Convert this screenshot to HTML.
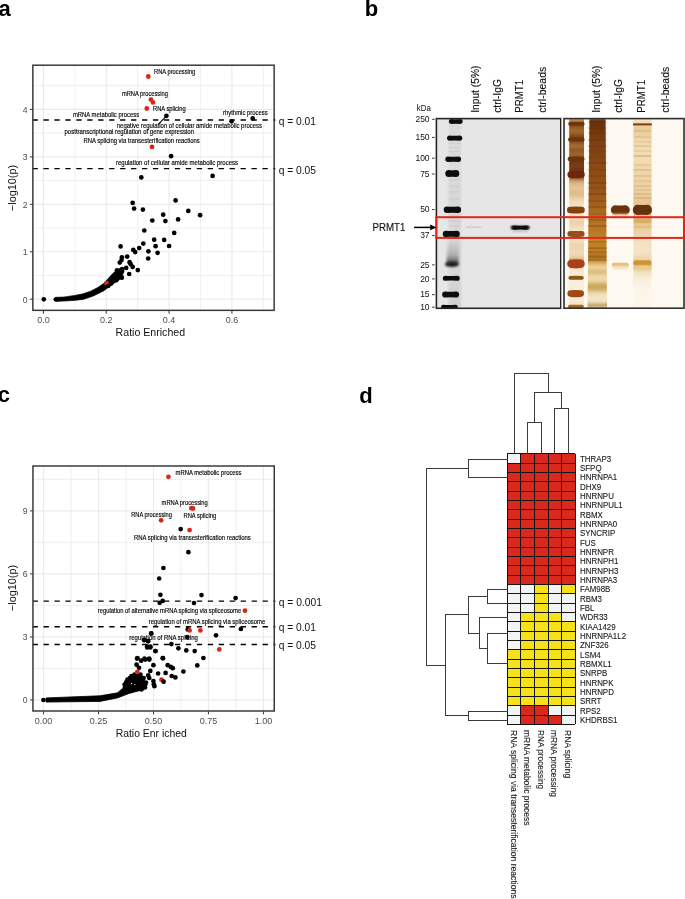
<!DOCTYPE html>
<html><head><meta charset="utf-8"><style>
html,body{margin:0;padding:0;background:#fff;width:685px;height:899px;overflow:hidden}
svg{display:block;will-change:transform}
text{font-family:"Liberation Sans", sans-serif}
</style></head><body>
<svg width="685" height="899" viewBox="0 0 685 899">
<rect width="685" height="899" fill="#fff"/>
<defs><filter id="bl1" x="-20%" y="-50%" width="140%" height="200%"><feGaussianBlur stdDeviation="0.6"/></filter><filter id="bl2" x="-20%" y="-80%" width="140%" height="260%"><feGaussianBlur stdDeviation="1.0"/></filter><filter id="bl4" x="-20%" y="-80%" width="140%" height="260%"><feGaussianBlur stdDeviation="0.8 0.7"/></filter><filter id="bl3" x="-20%" y="-20%" width="140%" height="140%"><feGaussianBlur stdDeviation="0.5 1.2"/></filter><clipPath id="cg1"><rect x="436.4" y="118.6" width="124.39999999999998" height="189.70000000000002"/></clipPath><linearGradient id="mk1" x1="0" y1="0" x2="0" y2="1">
<stop offset="0" stop-color="#dcdcdc"/><stop offset="0.3" stop-color="#d9d9d9"/><stop offset="0.45" stop-color="#d6d6d6"/>
<stop offset="0.6" stop-color="#d8d8d8"/><stop offset="0.75" stop-color="#cfcfcf"/><stop offset="0.8" stop-color="#d8d8d8"/><stop offset="1" stop-color="#cdcdcd"/></linearGradient><linearGradient id="sm25" x1="0" y1="0" x2="0" y2="1"><stop offset="0" stop-color="#888" stop-opacity="0"/><stop offset="0.6" stop-color="#777" stop-opacity="0.35"/><stop offset="1" stop-color="#333" stop-opacity="0.9"/></linearGradient><clipPath id="cg2"><rect x="564.0" y="118.6" width="120.0" height="189.6"/></clipPath><linearGradient id="m2" x1="0" y1="0" x2="0" y2="1"><stop offset="0.0000" stop-color="#d8a050"/><stop offset="0.0132" stop-color="#b07030"/><stop offset="0.0396" stop-color="#8a4c1a"/><stop offset="0.0607" stop-color="#a86a30"/><stop offset="0.0818" stop-color="#985c24"/><stop offset="0.0976" stop-color="#7a3e14"/><stop offset="0.1240" stop-color="#8a4e1c"/><stop offset="0.1451" stop-color="#a87038"/><stop offset="0.1662" stop-color="#905420"/><stop offset="0.1873" stop-color="#a06830"/><stop offset="0.2296" stop-color="#6e3410"/><stop offset="0.2507" stop-color="#7c4016"/><stop offset="0.2718" stop-color="#6e3010"/><stop offset="0.3140" stop-color="#9a5e30"/><stop offset="0.3351" stop-color="#d8b080"/><stop offset="0.3668" stop-color="#e8c898"/><stop offset="0.3984" stop-color="#dcb888"/><stop offset="0.4301" stop-color="#f0d8b4"/><stop offset="0.4565" stop-color="#f4e2c4"/><stop offset="0.5092" stop-color="#f6e6cc"/><stop offset="0.5462" stop-color="#ecd0a4"/><stop offset="0.5831" stop-color="#f4e2c4"/><stop offset="0.6306" stop-color="#f6e8d0"/><stop offset="0.6623" stop-color="#eed4ac"/><stop offset="0.6939" stop-color="#f0d8b4"/><stop offset="0.7256" stop-color="#f0d8b4"/><stop offset="0.7467" stop-color="#d8a878"/><stop offset="0.7889" stop-color="#f4e4cc"/><stop offset="0.8259" stop-color="#f8ecd8"/><stop offset="0.8786" stop-color="#f8eedc"/><stop offset="0.9578" stop-color="#f8ecd8"/><stop offset="1.0000" stop-color="#f2dcb8"/></linearGradient><linearGradient id="in2" x1="0" y1="0" x2="0" y2="1"><stop offset="0.0000" stop-color="#642c0a"/><stop offset="0.0343" stop-color="#6e320c"/><stop offset="0.0871" stop-color="#783a10"/><stop offset="0.1662" stop-color="#824214"/><stop offset="0.2454" stop-color="#8a4816"/><stop offset="0.3245" stop-color="#925018"/><stop offset="0.4037" stop-color="#9a581c"/><stop offset="0.4565" stop-color="#a2621e"/><stop offset="0.5092" stop-color="#ae6e22"/><stop offset="0.5620" stop-color="#b47424"/><stop offset="0.5989" stop-color="#b87826"/><stop offset="0.6412" stop-color="#c4862a"/><stop offset="0.6834" stop-color="#bc7e24"/><stop offset="0.7045" stop-color="#c08228"/><stop offset="0.7309" stop-color="#a46a1c"/><stop offset="0.7520" stop-color="#c4923a"/><stop offset="0.7731" stop-color="#e6c484"/><stop offset="0.7889" stop-color="#eed6a6"/><stop offset="0.8100" stop-color="#dab46c"/><stop offset="0.8311" stop-color="#eed8aa"/><stop offset="0.8575" stop-color="#ecd4a6"/><stop offset="0.8786" stop-color="#caa658"/><stop offset="0.8997" stop-color="#ccaa60"/><stop offset="0.9208" stop-color="#ecd8ac"/><stop offset="0.9420" stop-color="#f4e6c6"/><stop offset="0.9683" stop-color="#f2e0be"/><stop offset="0.9842" stop-color="#bc9c5c"/><stop offset="1.0000" stop-color="#d8c088"/></linearGradient><linearGradient id="pr2" x1="0" y1="0" x2="0" y2="1"><stop offset="0.0000" stop-color="#f8ecd4"/><stop offset="0.0396" stop-color="#e8cc98"/><stop offset="0.0871" stop-color="#ecd2a4"/><stop offset="0.1398" stop-color="#f2dcb4"/><stop offset="0.2190" stop-color="#f2dcb2"/><stop offset="0.2982" stop-color="#eed4a6"/><stop offset="0.3773" stop-color="#ecd0a0"/><stop offset="0.4301" stop-color="#e8c898"/><stop offset="0.5145" stop-color="#e4c088"/><stop offset="0.5356" stop-color="#dcb070"/><stop offset="0.5567" stop-color="#e6c890"/><stop offset="0.5884" stop-color="#ead0a0"/><stop offset="0.6412" stop-color="#f2e0c0"/><stop offset="0.7045" stop-color="#f4e4c8"/><stop offset="0.7361" stop-color="#eed8b0"/><stop offset="0.7784" stop-color="#e4c080"/><stop offset="0.8100" stop-color="#f2e0c0"/><stop offset="0.8522" stop-color="#faf0e0"/><stop offset="0.9050" stop-color="#fcf5e8"/><stop offset="1.0000" stop-color="#fcf6ea"/></linearGradient></defs>
<text x="-1.50" y="15.50" font-size="22" font-weight="bold" >a</text>
<text x="364.80" y="15.50" font-size="22" font-weight="bold" >b</text>
<text x="-2.30" y="401.80" font-size="22" font-weight="bold" >c</text>
<text x="359.30" y="402.80" font-size="22" font-weight="bold" >d</text>
<line x1="166.4" y1="115.8" x2="158.6" y2="124.2" stroke="#000" stroke-width="1.1"/>
<line x1="74.82" y1="65.20" x2="74.82" y2="310.35" stroke="#f1f1f1" stroke-width="1.1" />
<line x1="137.66" y1="65.20" x2="137.66" y2="310.35" stroke="#f1f1f1" stroke-width="1.1" />
<line x1="200.50" y1="65.20" x2="200.50" y2="310.35" stroke="#f1f1f1" stroke-width="1.1" />
<line x1="263.34" y1="65.20" x2="263.34" y2="310.35" stroke="#f1f1f1" stroke-width="1.1" />
<line x1="32.85" y1="275.47" x2="274.15" y2="275.47" stroke="#f1f1f1" stroke-width="1.1" />
<line x1="32.85" y1="228.02" x2="274.15" y2="228.02" stroke="#f1f1f1" stroke-width="1.1" />
<line x1="32.85" y1="180.57" x2="274.15" y2="180.57" stroke="#f1f1f1" stroke-width="1.1" />
<line x1="32.85" y1="133.12" x2="274.15" y2="133.12" stroke="#f1f1f1" stroke-width="1.1" />
<line x1="32.85" y1="85.67" x2="274.15" y2="85.67" stroke="#f1f1f1" stroke-width="1.1" />
<line x1="43.40" y1="65.20" x2="43.40" y2="310.35" stroke="#ebebeb" stroke-width="1.2" />
<line x1="106.24" y1="65.20" x2="106.24" y2="310.35" stroke="#ebebeb" stroke-width="1.2" />
<line x1="169.08" y1="65.20" x2="169.08" y2="310.35" stroke="#ebebeb" stroke-width="1.2" />
<line x1="231.92" y1="65.20" x2="231.92" y2="310.35" stroke="#ebebeb" stroke-width="1.2" />
<line x1="32.85" y1="299.20" x2="274.15" y2="299.20" stroke="#ebebeb" stroke-width="1.2" />
<line x1="32.85" y1="251.75" x2="274.15" y2="251.75" stroke="#ebebeb" stroke-width="1.2" />
<line x1="32.85" y1="204.30" x2="274.15" y2="204.30" stroke="#ebebeb" stroke-width="1.2" />
<line x1="32.85" y1="156.85" x2="274.15" y2="156.85" stroke="#ebebeb" stroke-width="1.2" />
<line x1="32.85" y1="109.40" x2="274.15" y2="109.40" stroke="#ebebeb" stroke-width="1.2" />
<circle cx="55.6" cy="299.4" r="2.15"/>
<path d="M55.6,297.3 L64,297.0 L74.4,295.4 L83,293.8 L90.5,291.2 L97.8,287.4 L103.6,283.4 L108,278.8 L112.4,273.8 L116.8,269.9 L119.7,268.4 L123,270 L122.6,277.7 L116.8,281.4 L109.5,286.5 L103.6,290.9 L93.4,296 L83.2,299.4 L74.4,300.4 L64,301.1 L55.6,301.5 Z" fill="#000" stroke="#000" stroke-width="0.6" stroke-linejoin="round"/>
<circle cx="106.5" cy="283.1" r="2.4" fill="#da2618"/>
<circle cx="43.8" cy="299.3" r="2.35" fill="#000"/>
<circle cx="166.4" cy="115.8" r="2.35" fill="#000"/>
<circle cx="231.6" cy="121.3" r="2.35" fill="#000"/>
<circle cx="252.7" cy="118.4" r="2.35" fill="#000"/>
<circle cx="171.1" cy="156.2" r="2.35" fill="#000"/>
<circle cx="212.6" cy="175.9" r="2.35" fill="#000"/>
<circle cx="141.3" cy="177.4" r="2.35" fill="#000"/>
<circle cx="132.7" cy="202.9" r="2.35" fill="#000"/>
<circle cx="134.1" cy="208.6" r="2.35" fill="#000"/>
<circle cx="142.9" cy="209.6" r="2.35" fill="#000"/>
<circle cx="175.6" cy="200.4" r="2.35" fill="#000"/>
<circle cx="188.3" cy="210.9" r="2.35" fill="#000"/>
<circle cx="200.1" cy="215.2" r="2.35" fill="#000"/>
<circle cx="163.2" cy="214.7" r="2.35" fill="#000"/>
<circle cx="165.4" cy="221.1" r="2.35" fill="#000"/>
<circle cx="178.1" cy="219.4" r="2.35" fill="#000"/>
<circle cx="152.3" cy="220.5" r="2.35" fill="#000"/>
<circle cx="144.3" cy="230.5" r="2.35" fill="#000"/>
<circle cx="174.2" cy="232.9" r="2.35" fill="#000"/>
<circle cx="154.2" cy="239.7" r="2.35" fill="#000"/>
<circle cx="164.2" cy="239.9" r="2.35" fill="#000"/>
<circle cx="143.3" cy="243.6" r="2.35" fill="#000"/>
<circle cx="155.6" cy="246.2" r="2.35" fill="#000"/>
<circle cx="169.1" cy="246.0" r="2.35" fill="#000"/>
<circle cx="120.6" cy="246.4" r="2.35" fill="#000"/>
<circle cx="139.2" cy="248.1" r="2.35" fill="#000"/>
<circle cx="133.3" cy="249.9" r="2.35" fill="#000"/>
<circle cx="135.2" cy="252.1" r="2.35" fill="#000"/>
<circle cx="148.4" cy="251.3" r="2.35" fill="#000"/>
<circle cx="157.6" cy="252.8" r="2.35" fill="#000"/>
<circle cx="148.2" cy="258.5" r="2.35" fill="#000"/>
<circle cx="127.2" cy="256.6" r="2.35" fill="#000"/>
<circle cx="121.9" cy="257.3" r="2.35" fill="#000"/>
<circle cx="121.5" cy="260.1" r="2.35" fill="#000"/>
<circle cx="119.8" cy="262.6" r="2.35" fill="#000"/>
<circle cx="129.6" cy="262.2" r="2.35" fill="#000"/>
<circle cx="130.7" cy="264.2" r="2.35" fill="#000"/>
<circle cx="132.7" cy="266.9" r="2.35" fill="#000"/>
<circle cx="137.8" cy="270.1" r="2.35" fill="#000"/>
<circle cx="126.2" cy="267.9" r="2.35" fill="#000"/>
<circle cx="122.1" cy="269.1" r="2.35" fill="#000"/>
<circle cx="129.2" cy="274.0" r="2.35" fill="#000"/>
<circle cx="121.9" cy="277.7" r="2.35" fill="#000"/>
<circle cx="122.1" cy="271.4" r="2.35" fill="#000"/>
<circle cx="117.0" cy="270.3" r="2.35" fill="#000"/>
<circle cx="116.3" cy="280.2" r="2.35" fill="#000"/>
<circle cx="111.2" cy="283.6" r="2.35" fill="#000"/>
<circle cx="108.2" cy="286.0" r="2.35" fill="#000"/>
<circle cx="148.3" cy="76.5" r="2.4" fill="#da2618"/>
<circle cx="150.9" cy="99.6" r="2.4" fill="#da2618"/>
<circle cx="153.0" cy="102.4" r="2.4" fill="#da2618"/>
<circle cx="146.8" cy="108.5" r="2.4" fill="#da2618"/>
<circle cx="152.0" cy="146.9" r="2.4" fill="#da2618"/>
<text x="154.00" y="74.40" font-size="6.5" textLength="41.30" lengthAdjust="spacingAndGlyphs" stroke="#000" stroke-width="0.14">RNA processing</text>
<text x="121.90" y="96.20" font-size="6.5" textLength="46.00" lengthAdjust="spacingAndGlyphs" stroke="#000" stroke-width="0.14">mRNA processing</text>
<text x="153.00" y="111.30" font-size="6.5" textLength="32.70" lengthAdjust="spacingAndGlyphs" stroke="#000" stroke-width="0.14">RNA splicing</text>
<text x="72.90" y="117.10" font-size="6.5" textLength="66.20" lengthAdjust="spacingAndGlyphs" stroke="#000" stroke-width="0.14">mRNA metabolic process</text>
<text x="223.00" y="115.40" font-size="6.5" textLength="44.70" lengthAdjust="spacingAndGlyphs" stroke="#000" stroke-width="0.14">rhythmic process</text>
<text x="116.80" y="127.50" font-size="6.5" textLength="145.20" lengthAdjust="spacingAndGlyphs" stroke="#000" stroke-width="0.14">negative regulation of cellular amide metabolic process</text>
<text x="64.50" y="133.80" font-size="6.5" textLength="129.50" lengthAdjust="spacingAndGlyphs" stroke="#000" stroke-width="0.14">posttranscriptional regulation of gene expression</text>
<text x="83.50" y="143.30" font-size="6.5" textLength="116.20" lengthAdjust="spacingAndGlyphs" stroke="#000" stroke-width="0.14">RNA splicing via transesterification reactions</text>
<text x="116.00" y="165.10" font-size="6.5" textLength="122.00" lengthAdjust="spacingAndGlyphs" stroke="#000" stroke-width="0.14">regulation of cellular amide metabolic process</text>
<line x1="32.85" y1="120.00" x2="275.35" y2="120.00" stroke="#000" stroke-width="1.45" stroke-dasharray="5.3 5.65" stroke-dashoffset="0.35"/>
<line x1="32.85" y1="168.60" x2="275.35" y2="168.60" stroke="#000" stroke-width="1.45" stroke-dasharray="5.3 5.65" stroke-dashoffset="0.35"/>
<rect x="32.85" y="65.20" width="241.30" height="245.15" fill="none" stroke="#363333" stroke-width="1.45" />
<line x1="43.40" y1="310.85" x2="43.40" y2="313.75" stroke="#333333" stroke-width="1.0" />
<text x="43.40" y="322.85" font-size="9.0" text-anchor="middle" fill="#4d4d4d" >0.0</text>
<line x1="106.24" y1="310.85" x2="106.24" y2="313.75" stroke="#333333" stroke-width="1.0" />
<text x="106.24" y="322.85" font-size="9.0" text-anchor="middle" fill="#4d4d4d" >0.2</text>
<line x1="169.08" y1="310.85" x2="169.08" y2="313.75" stroke="#333333" stroke-width="1.0" />
<text x="169.08" y="322.85" font-size="9.0" text-anchor="middle" fill="#4d4d4d" >0.4</text>
<line x1="231.92" y1="310.85" x2="231.92" y2="313.75" stroke="#333333" stroke-width="1.0" />
<text x="231.92" y="322.85" font-size="9.0" text-anchor="middle" fill="#4d4d4d" >0.6</text>
<line x1="29.85" y1="299.20" x2="32.35" y2="299.20" stroke="#333333" stroke-width="1.0" />
<text x="27.55" y="302.55" font-size="8.7" text-anchor="end" fill="#4d4d4d" >0</text>
<line x1="29.85" y1="251.75" x2="32.35" y2="251.75" stroke="#333333" stroke-width="1.0" />
<text x="27.55" y="255.10" font-size="8.7" text-anchor="end" fill="#4d4d4d" >1</text>
<line x1="29.85" y1="204.30" x2="32.35" y2="204.30" stroke="#333333" stroke-width="1.0" />
<text x="27.55" y="207.65" font-size="8.7" text-anchor="end" fill="#4d4d4d" >2</text>
<line x1="29.85" y1="156.85" x2="32.35" y2="156.85" stroke="#333333" stroke-width="1.0" />
<text x="27.55" y="160.20" font-size="8.7" text-anchor="end" fill="#4d4d4d" >3</text>
<line x1="29.85" y1="109.40" x2="32.35" y2="109.40" stroke="#333333" stroke-width="1.0" />
<text x="27.55" y="112.75" font-size="8.7" text-anchor="end" fill="#4d4d4d" >4</text>
<text x="278.70" y="124.90" font-size="11.2" fill="#111" textLength="37.30" lengthAdjust="spacingAndGlyphs" >q = 0.01</text>
<text x="278.70" y="173.50" font-size="11.2" fill="#111" textLength="37.30" lengthAdjust="spacingAndGlyphs" >q = 0.05</text>
<text x="115.60" y="335.95" font-size="11.4" fill="#111" textLength="69.50" lengthAdjust="spacingAndGlyphs" >Ratio Enriched</text>
<text x="16.00" y="188.00" font-size="11.2" text-anchor="middle" fill="#111" textLength="46.30" lengthAdjust="spacingAndGlyphs" transform="rotate(-90 16.00 188.00)" >−log10(p)</text>
<line x1="71.08" y1="466.00" x2="71.08" y2="711.00" stroke="#f1f1f1" stroke-width="1.1" />
<line x1="126.03" y1="466.00" x2="126.03" y2="711.00" stroke="#f1f1f1" stroke-width="1.1" />
<line x1="180.97" y1="466.00" x2="180.97" y2="711.00" stroke="#f1f1f1" stroke-width="1.1" />
<line x1="235.93" y1="466.00" x2="235.93" y2="711.00" stroke="#f1f1f1" stroke-width="1.1" />
<line x1="32.95" y1="668.40" x2="274.25" y2="668.40" stroke="#f1f1f1" stroke-width="1.1" />
<line x1="32.95" y1="605.40" x2="274.25" y2="605.40" stroke="#f1f1f1" stroke-width="1.1" />
<line x1="32.95" y1="542.40" x2="274.25" y2="542.40" stroke="#f1f1f1" stroke-width="1.1" />
<line x1="32.95" y1="479.40" x2="274.25" y2="479.40" stroke="#f1f1f1" stroke-width="1.1" />
<line x1="43.60" y1="466.00" x2="43.60" y2="711.00" stroke="#ebebeb" stroke-width="1.2" />
<line x1="98.55" y1="466.00" x2="98.55" y2="711.00" stroke="#ebebeb" stroke-width="1.2" />
<line x1="153.50" y1="466.00" x2="153.50" y2="711.00" stroke="#ebebeb" stroke-width="1.2" />
<line x1="208.45" y1="466.00" x2="208.45" y2="711.00" stroke="#ebebeb" stroke-width="1.2" />
<line x1="263.40" y1="466.00" x2="263.40" y2="711.00" stroke="#ebebeb" stroke-width="1.2" />
<line x1="32.95" y1="699.90" x2="274.25" y2="699.90" stroke="#ebebeb" stroke-width="1.2" />
<line x1="32.95" y1="636.90" x2="274.25" y2="636.90" stroke="#ebebeb" stroke-width="1.2" />
<line x1="32.95" y1="573.90" x2="274.25" y2="573.90" stroke="#ebebeb" stroke-width="1.2" />
<line x1="32.95" y1="510.90" x2="274.25" y2="510.90" stroke="#ebebeb" stroke-width="1.2" />
<path d="M46,697.9 L100,695.8 L117.5,692.8 L122.8,688.3 L124.5,682.1 L128.9,676.9 L136.8,673.4 L142,676 L144.7,680.4 L147.3,684.8 L145.5,688.3 L142,690 L128.9,693.5 L117.5,697.9 L100,701.4 L46,702.1 Z" fill="#000" stroke="#000" stroke-width="0.8" stroke-linejoin="round"/>
<circle cx="131.6" cy="683.6" r="0.7" fill="#fff"/>
<circle cx="134.9" cy="684.6" r="0.6" fill="#fff"/>
<circle cx="161.5" cy="679.7" r="2.4" fill="#da2618"/>
<circle cx="180.7" cy="529.1" r="2.35" fill="#000"/>
<circle cx="188.4" cy="552.2" r="2.35" fill="#000"/>
<circle cx="163.4" cy="568.0" r="2.35" fill="#000"/>
<circle cx="159.2" cy="578.5" r="2.35" fill="#000"/>
<circle cx="160.4" cy="594.8" r="2.35" fill="#000"/>
<circle cx="201.5" cy="595.1" r="2.35" fill="#000"/>
<circle cx="162.7" cy="600.9" r="2.35" fill="#000"/>
<circle cx="159.7" cy="602.8" r="2.35" fill="#000"/>
<circle cx="194.0" cy="603.0" r="2.35" fill="#000"/>
<circle cx="235.6" cy="598.1" r="2.35" fill="#000"/>
<circle cx="240.9" cy="629.0" r="2.35" fill="#000"/>
<circle cx="187.7" cy="629.4" r="2.35" fill="#000"/>
<circle cx="151.1" cy="633.4" r="2.35" fill="#000"/>
<circle cx="216.0" cy="635.3" r="2.35" fill="#000"/>
<circle cx="187.3" cy="637.1" r="2.35" fill="#000"/>
<circle cx="144.5" cy="640.0" r="2.35" fill="#000"/>
<circle cx="148.0" cy="641.1" r="2.35" fill="#000"/>
<circle cx="171.4" cy="644.1" r="2.35" fill="#000"/>
<circle cx="147.1" cy="646.5" r="2.35" fill="#000"/>
<circle cx="150.4" cy="646.5" r="2.35" fill="#000"/>
<circle cx="178.4" cy="648.3" r="2.35" fill="#000"/>
<circle cx="155.5" cy="651.1" r="2.35" fill="#000"/>
<circle cx="186.3" cy="650.4" r="2.35" fill="#000"/>
<circle cx="194.7" cy="651.1" r="2.35" fill="#000"/>
<circle cx="137.5" cy="658.0" r="2.35" fill="#000"/>
<circle cx="144.5" cy="658.6" r="2.35" fill="#000"/>
<circle cx="149.2" cy="658.6" r="2.35" fill="#000"/>
<circle cx="162.7" cy="658.2" r="2.35" fill="#000"/>
<circle cx="203.4" cy="658.0" r="2.35" fill="#000"/>
<circle cx="151.3" cy="633.5" r="2.35" fill="#000"/>
<circle cx="144.2" cy="640.2" r="2.35" fill="#000"/>
<circle cx="148.2" cy="641.2" r="2.35" fill="#000"/>
<circle cx="147.2" cy="647.4" r="2.35" fill="#000"/>
<circle cx="150.3" cy="647.4" r="2.35" fill="#000"/>
<circle cx="155.4" cy="651.0" r="2.35" fill="#000"/>
<circle cx="197.3" cy="665.4" r="2.35" fill="#000"/>
<circle cx="183.4" cy="671.5" r="2.35" fill="#000"/>
<circle cx="163.0" cy="658.2" r="2.35" fill="#000"/>
<circle cx="167.7" cy="665.2" r="2.35" fill="#000"/>
<circle cx="170.7" cy="666.8" r="2.35" fill="#000"/>
<circle cx="172.8" cy="668.2" r="2.35" fill="#000"/>
<circle cx="165.6" cy="672.9" r="2.35" fill="#000"/>
<circle cx="158.1" cy="673.5" r="2.35" fill="#000"/>
<circle cx="171.7" cy="676.0" r="2.35" fill="#000"/>
<circle cx="175.4" cy="677.4" r="2.35" fill="#000"/>
<circle cx="163.6" cy="681.7" r="2.35" fill="#000"/>
<circle cx="153.4" cy="665.2" r="2.35" fill="#000"/>
<circle cx="150.3" cy="670.9" r="2.35" fill="#000"/>
<circle cx="148.2" cy="675.4" r="2.35" fill="#000"/>
<circle cx="149.3" cy="678.0" r="2.35" fill="#000"/>
<circle cx="153.4" cy="681.1" r="2.35" fill="#000"/>
<circle cx="153.8" cy="684.2" r="2.35" fill="#000"/>
<circle cx="154.4" cy="686.2" r="2.35" fill="#000"/>
<circle cx="124.6" cy="684.5" r="2.35" fill="#000"/>
<circle cx="127.5" cy="679.5" r="2.35" fill="#000"/>
<circle cx="131.5" cy="676.2" r="2.35" fill="#000"/>
<circle cx="134.5" cy="674.5" r="2.35" fill="#000"/>
<circle cx="140.5" cy="674.6" r="2.35" fill="#000"/>
<circle cx="143.6" cy="678.0" r="2.35" fill="#000"/>
<circle cx="146.0" cy="682.6" r="2.35" fill="#000"/>
<circle cx="145.0" cy="687.4" r="2.35" fill="#000"/>
<circle cx="141.5" cy="689.5" r="2.35" fill="#000"/>
<circle cx="137.0" cy="658.6" r="2.35" fill="#000"/>
<circle cx="141.1" cy="660.7" r="2.35" fill="#000"/>
<circle cx="145.2" cy="659.6" r="2.35" fill="#000"/>
<circle cx="149.3" cy="659.6" r="2.35" fill="#000"/>
<circle cx="136.6" cy="664.7" r="2.35" fill="#000"/>
<circle cx="139.0" cy="667.8" r="2.35" fill="#000"/>
<circle cx="129.9" cy="678.0" r="2.35" fill="#000"/>
<circle cx="126.4" cy="682.1" r="2.35" fill="#000"/>
<circle cx="43.4" cy="700.0" r="2.35" fill="#000"/>
<circle cx="168.4" cy="476.8" r="2.4" fill="#da2618"/>
<circle cx="191.4" cy="508.2" r="2.4" fill="#da2618"/>
<circle cx="193.0" cy="508.5" r="2.4" fill="#da2618"/>
<circle cx="161.1" cy="520.3" r="2.4" fill="#da2618"/>
<circle cx="189.6" cy="530.1" r="2.4" fill="#da2618"/>
<circle cx="245.0" cy="610.7" r="2.4" fill="#da2618"/>
<circle cx="189.6" cy="630.4" r="2.4" fill="#da2618"/>
<circle cx="200.4" cy="630.4" r="2.4" fill="#da2618"/>
<circle cx="219.3" cy="649.4" r="2.4" fill="#da2618"/>
<circle cx="137.4" cy="671.9" r="2.4" fill="#da2618"/>
<text x="175.60" y="474.60" font-size="6.5" textLength="65.90" lengthAdjust="spacingAndGlyphs" stroke="#000" stroke-width="0.14">mRNA metabolic process</text>
<text x="161.60" y="504.50" font-size="6.5" textLength="46.20" lengthAdjust="spacingAndGlyphs" stroke="#000" stroke-width="0.14">mRNA processing</text>
<text x="131.20" y="516.70" font-size="6.5" textLength="40.70" lengthAdjust="spacingAndGlyphs" stroke="#000" stroke-width="0.14">RNA processing</text>
<text x="183.50" y="517.90" font-size="6.5" textLength="32.70" lengthAdjust="spacingAndGlyphs" stroke="#000" stroke-width="0.14">RNA splicing</text>
<text x="134.00" y="539.60" font-size="6.5" textLength="116.80" lengthAdjust="spacingAndGlyphs" stroke="#000" stroke-width="0.14">RNA splicing via transesterification reactions</text>
<text x="97.80" y="612.50" font-size="6.5" textLength="143.40" lengthAdjust="spacingAndGlyphs" stroke="#000" stroke-width="0.14">regulation of alternative mRNA splicing via spliceosome</text>
<text x="148.70" y="624.00" font-size="6.5" textLength="116.60" lengthAdjust="spacingAndGlyphs" stroke="#000" stroke-width="0.14">regulation of mRNA splicing via spliceosome</text>
<text x="129.30" y="640.10" font-size="6.5" textLength="68.50" lengthAdjust="spacingAndGlyphs" stroke="#000" stroke-width="0.14">regulation of RNA splicing</text>
<line x1="32.95" y1="601.10" x2="275.45" y2="601.10" stroke="#000" stroke-width="1.45" stroke-dasharray="5.3 5.65" stroke-dashoffset="0.35"/>
<line x1="32.95" y1="626.70" x2="275.45" y2="626.70" stroke="#000" stroke-width="1.45" stroke-dasharray="5.3 5.65" stroke-dashoffset="0.35"/>
<line x1="32.95" y1="644.40" x2="275.45" y2="644.40" stroke="#000" stroke-width="1.45" stroke-dasharray="5.3 5.65" stroke-dashoffset="0.35"/>
<rect x="32.95" y="466.00" width="241.30" height="245.00" fill="none" stroke="#363333" stroke-width="1.45" />
<line x1="43.60" y1="711.50" x2="43.60" y2="714.40" stroke="#333333" stroke-width="1.0" />
<text x="43.60" y="723.50" font-size="9.0" text-anchor="middle" fill="#4d4d4d" >0.00</text>
<line x1="98.55" y1="711.50" x2="98.55" y2="714.40" stroke="#333333" stroke-width="1.0" />
<text x="98.55" y="723.50" font-size="9.0" text-anchor="middle" fill="#4d4d4d" >0.25</text>
<line x1="153.50" y1="711.50" x2="153.50" y2="714.40" stroke="#333333" stroke-width="1.0" />
<text x="153.50" y="723.50" font-size="9.0" text-anchor="middle" fill="#4d4d4d" >0.50</text>
<line x1="208.45" y1="711.50" x2="208.45" y2="714.40" stroke="#333333" stroke-width="1.0" />
<text x="208.45" y="723.50" font-size="9.0" text-anchor="middle" fill="#4d4d4d" >0.75</text>
<line x1="263.40" y1="711.50" x2="263.40" y2="714.40" stroke="#333333" stroke-width="1.0" />
<text x="263.40" y="723.50" font-size="9.0" text-anchor="middle" fill="#4d4d4d" >1.00</text>
<line x1="29.95" y1="699.90" x2="32.45" y2="699.90" stroke="#333333" stroke-width="1.0" />
<text x="27.65" y="703.25" font-size="8.7" text-anchor="end" fill="#4d4d4d" >0</text>
<line x1="29.95" y1="636.90" x2="32.45" y2="636.90" stroke="#333333" stroke-width="1.0" />
<text x="27.65" y="640.25" font-size="8.7" text-anchor="end" fill="#4d4d4d" >3</text>
<line x1="29.95" y1="573.90" x2="32.45" y2="573.90" stroke="#333333" stroke-width="1.0" />
<text x="27.65" y="577.25" font-size="8.7" text-anchor="end" fill="#4d4d4d" >6</text>
<line x1="29.95" y1="510.90" x2="32.45" y2="510.90" stroke="#333333" stroke-width="1.0" />
<text x="27.65" y="514.25" font-size="8.7" text-anchor="end" fill="#4d4d4d" >9</text>
<text x="278.70" y="605.70" font-size="11.2" fill="#111" textLength="43.20" lengthAdjust="spacingAndGlyphs" >q = 0.001</text>
<text x="278.70" y="631.30" font-size="11.2" fill="#111" textLength="37.30" lengthAdjust="spacingAndGlyphs" >q = 0.01</text>
<text x="278.70" y="649.30" font-size="11.2" fill="#111" textLength="37.30" lengthAdjust="spacingAndGlyphs" >q = 0.05</text>
<text x="115.70" y="736.60" font-size="11.4" fill="#111" textLength="71.10" lengthAdjust="spacingAndGlyphs" >Ratio Enr iched</text>
<text x="16.00" y="588.00" font-size="11.2" text-anchor="middle" fill="#111" textLength="46.30" lengthAdjust="spacingAndGlyphs" transform="rotate(-90 16.00 588.00)" >−log10(p)</text>
<rect x="436.40" y="118.60" width="124.40" height="189.70" fill="#e6e6e6" />
<g clip-path="url(#cg1)">
<rect x="448.5" y="119" width="12.5" height="189" fill="url(#mk1)" filter="url(#bl2)"/>
<rect x="448.5" y="142.9" width="12.5" height="1.2" fill="#c4c4c4" opacity="0.45" filter="url(#bl1)"/>
<rect x="448.5" y="146.9" width="12.5" height="1.2" fill="#c4c4c4" opacity="0.45" filter="url(#bl1)"/>
<rect x="448.5" y="150.9" width="12.5" height="1.2" fill="#c4c4c4" opacity="0.45" filter="url(#bl1)"/>
<rect x="448.5" y="179.4" width="12.5" height="1.2" fill="#c4c4c4" opacity="0.45" filter="url(#bl1)"/>
<rect x="448.5" y="185.4" width="12.5" height="1.2" fill="#c4c4c4" opacity="0.45" filter="url(#bl1)"/>
<rect x="448.5" y="191.4" width="12.5" height="1.2" fill="#c4c4c4" opacity="0.45" filter="url(#bl1)"/>
<rect x="448.5" y="198.4" width="12.5" height="1.2" fill="#c4c4c4" opacity="0.45" filter="url(#bl1)"/>
<rect x="448.5" y="215.4" width="12.5" height="1.2" fill="#c4c4c4" opacity="0.45" filter="url(#bl1)"/>
<rect x="448.5" y="220.4" width="12.5" height="1.2" fill="#c4c4c4" opacity="0.45" filter="url(#bl1)"/>
<rect x="448.5" y="225.4" width="12.5" height="1.2" fill="#c4c4c4" opacity="0.45" filter="url(#bl1)"/>
<path d="M451.25,119.05 Q455.80,119.54 460.35,119.05 A2.45,2.45 0 0 1 460.35,123.95 Q455.80,123.46 451.25,123.95 A2.45,2.45 0 0 1 451.25,119.05 Z" fill="#111" filter="url(#bl1)" />
<path d="M449.60,135.50 Q454.65,136.02 459.70,135.50 A2.60,2.60 0 0 1 459.70,140.70 Q454.65,140.18 449.60,140.70 A2.60,2.60 0 0 1 449.60,135.50 Z" fill="#111" filter="url(#bl1)" />
<path d="M448.00,156.60 Q453.20,157.14 458.40,156.60 A2.70,2.70 0 0 1 458.40,162.00 Q453.20,161.46 448.00,162.00 A2.70,2.70 0 0 1 448.00,156.60 Z" fill="#111" filter="url(#bl1)" />
<path d="M448.80,170.10 Q452.30,170.80 455.80,170.10 A3.50,3.50 0 0 1 455.80,177.10 Q452.30,176.40 448.80,177.10 A3.50,3.50 0 0 1 448.80,170.10 Z" fill="#0a0a0a" filter="url(#bl1)" />
<path d="M447.00,206.40 Q452.40,207.06 457.80,206.40 A3.30,3.30 0 0 1 457.80,213.00 Q452.40,212.34 447.00,213.00 A3.30,3.30 0 0 1 447.00,206.40 Z" fill="#0a0a0a" filter="url(#bl1)" />
<path d="M446.00,230.70 Q451.30,231.34 456.60,230.70 A3.20,3.20 0 0 1 456.60,237.10 Q451.30,236.46 446.00,237.10 A3.20,3.20 0 0 1 446.00,230.70 Z" fill="#0a0a0a" filter="url(#bl1)" />
<path d="M445.35,275.75 Q451.30,276.26 457.25,275.75 A2.55,2.55 0 0 1 457.25,280.85 Q451.30,280.34 445.35,280.85 A2.55,2.55 0 0 1 445.35,275.75 Z" fill="#111" filter="url(#bl1)" />
<path d="M445.20,291.40 Q450.60,292.02 456.00,291.40 A3.10,3.10 0 0 1 456.00,297.60 Q450.60,296.98 445.20,297.60 A3.10,3.10 0 0 1 445.20,291.40 Z" fill="#0a0a0a" filter="url(#bl1)" />
<path d="M443.20,304.70 Q449.40,305.14 455.60,304.70 A2.20,2.20 0 0 1 455.60,309.10 Q449.40,308.66 443.20,309.10 A2.20,2.20 0 0 1 443.20,304.70 Z" fill="#111" filter="url(#bl1)" />
<rect x="446.5" y="240" width="12" height="24" fill="url(#sm25)" filter="url(#bl2)"/>
<ellipse cx="451.8" cy="264.4" rx="6.8" ry="2.6" fill="#1e1e1e" filter="url(#bl2)"/>
<rect x="511.5" y="224.5" width="17" height="7.5" rx="2" fill="#b0b0b0" opacity="0.6" filter="url(#bl2)"/>
<path d="M513.40,225.20 Q520.20,226.16 527.00,225.20 A2.40,2.40 0 0 1 527.00,230.00 Q520.20,229.04 513.40,230.00 A2.40,2.40 0 0 1 513.40,225.20 Z" fill="#111" filter="url(#bl4)" />
<rect x="466" y="226.4" width="15" height="1.6" fill="#cdcdcd" filter="url(#bl1)"/>
</g>
<rect x="436.40" y="118.60" width="124.40" height="189.70" fill="none" stroke="#262626" stroke-width="1.6" />
<rect x="561.60" y="118.00" width="1.80" height="191.00" fill="#fff" />
<rect x="564.00" y="118.60" width="120.00" height="189.60" fill="#fef9f0" />
<g clip-path="url(#cg2)">
<rect x="569.2" y="118.5" width="14.8" height="189.5" fill="url(#m2)" filter="url(#bl3)"/>
<path d="M570.00,122.10 Q576.40,121.81 582.80,122.10 A1.80,1.80 0 0 1 582.80,125.70 Q576.40,125.99 570.00,125.70 A1.80,1.80 0 0 1 570.00,122.10 Z" fill="#6a3410" filter="url(#bl1)" />
<path d="M569.90,137.60 Q576.30,137.30 582.70,137.60 A1.90,1.90 0 0 1 582.70,141.40 Q576.30,141.70 569.90,141.40 A1.90,1.90 0 0 1 569.90,137.60 Z" fill="#6a3410" filter="url(#bl1)" />
<path d="M569.90,156.70 Q576.10,156.33 582.30,156.70 A2.30,2.30 0 0 1 582.30,161.30 Q576.10,161.67 569.90,161.30 A2.30,2.30 0 0 1 569.90,156.70 Z" fill="#6a3410" filter="url(#bl1)" />
<path d="M570.90,171.00 Q576.10,170.44 581.30,171.00 A3.50,3.50 0 0 1 581.30,178.00 Q576.10,178.56 570.90,178.00 A3.50,3.50 0 0 1 570.90,171.00 Z" fill="#70280c" filter="url(#bl1)" />
<path d="M570.20,206.80 Q575.90,206.29 581.60,206.80 A3.20,3.20 0 0 1 581.60,213.20 Q575.90,213.71 570.20,213.20 A3.20,3.20 0 0 1 570.20,206.80 Z" fill="#86420f" filter="url(#bl1)" />
<path d="M570.20,231.10 Q576.00,230.65 581.80,231.10 A2.80,2.80 0 0 1 581.80,236.70 Q576.00,237.15 570.20,236.70 A2.80,2.80 0 0 1 570.20,231.10 Z" fill="#94501c" filter="url(#bl1)" />
<path d="M571.50,259.50 Q576.00,258.81 580.50,259.50 A4.30,4.30 0 0 1 580.50,268.10 Q576.00,268.79 571.50,268.10 A4.30,4.30 0 0 1 571.50,259.50 Z" fill="#a8401a" filter="url(#bl1)" />
<path d="M570.30,275.90 Q576.10,275.60 581.90,275.90 A1.90,1.90 0 0 1 581.90,279.70 Q576.10,280.00 570.30,279.70 A1.90,1.90 0 0 1 570.30,275.90 Z" fill="#8a5a1a" filter="url(#bl1)" />
<path d="M570.70,290.30 Q575.70,289.77 580.70,290.30 A3.30,3.30 0 0 1 580.70,296.90 Q575.70,297.43 570.70,296.90 A3.30,3.30 0 0 1 570.70,290.30 Z" fill="#a04a16" filter="url(#bl1)" />
<path d="M569.80,304.80 Q575.90,304.51 582.00,304.80 A1.80,1.80 0 0 1 582.00,308.40 Q575.90,308.69 569.80,308.40 A1.80,1.80 0 0 1 569.80,304.80 Z" fill="#a86a1c" filter="url(#bl1)" />
<path d="M589.4,118.5 L605.6,118.5 L607.0,308 L587.6,308 Z" fill="url(#in2)" filter="url(#bl3)"/>
<rect x="587.8" y="121.3" width="19" height="1.4" fill="#5a2806" opacity="0.20" filter="url(#bl1)"/>
<rect x="587.8" y="127.3" width="19" height="1.4" fill="#5a2806" opacity="0.26" filter="url(#bl1)"/>
<rect x="587.8" y="132.3" width="19" height="1.4" fill="#5a2806" opacity="0.22" filter="url(#bl1)"/>
<rect x="587.8" y="139.3" width="19" height="1.4" fill="#5a2806" opacity="0.27" filter="url(#bl1)"/>
<rect x="587.8" y="145.3" width="19" height="1.4" fill="#5a2806" opacity="0.28" filter="url(#bl1)"/>
<rect x="587.8" y="150.3" width="19" height="1.4" fill="#5a2806" opacity="0.16" filter="url(#bl1)"/>
<rect x="587.8" y="156.3" width="19" height="1.4" fill="#5a2806" opacity="0.15" filter="url(#bl1)"/>
<rect x="587.8" y="162.3" width="19" height="1.4" fill="#5a2806" opacity="0.32" filter="url(#bl1)"/>
<rect x="587.8" y="169.3" width="19" height="1.4" fill="#5a2806" opacity="0.20" filter="url(#bl1)"/>
<rect x="587.8" y="175.3" width="19" height="1.4" fill="#5a2806" opacity="0.20" filter="url(#bl1)"/>
<rect x="587.8" y="182.3" width="19" height="1.4" fill="#5a2806" opacity="0.35" filter="url(#bl1)"/>
<rect x="587.8" y="187.3" width="19" height="1.4" fill="#5a2806" opacity="0.24" filter="url(#bl1)"/>
<rect x="587.8" y="193.3" width="19" height="1.4" fill="#5a2806" opacity="0.32" filter="url(#bl1)"/>
<rect x="587.8" y="200.3" width="19" height="1.4" fill="#5a2806" opacity="0.25" filter="url(#bl1)"/>
<rect x="587.8" y="206.3" width="19" height="1.4" fill="#5a2806" opacity="0.28" filter="url(#bl1)"/>
<rect x="587.8" y="213.3" width="19" height="1.4" fill="#5a2806" opacity="0.18" filter="url(#bl1)"/>
<rect x="587.8" y="219.3" width="19" height="1.4" fill="#5a2806" opacity="0.28" filter="url(#bl1)"/>
<rect x="587.8" y="225.3" width="19" height="1.4" fill="#5a2806" opacity="0.32" filter="url(#bl1)"/>
<rect x="587.8" y="241.2" width="19" height="1.4" fill="#5a2806" opacity="0.25" filter="url(#bl1)"/>
<rect x="587.8" y="247.5" width="19" height="1.4" fill="#5a2806" opacity="0.30" filter="url(#bl1)"/>
<rect x="587.8" y="251.2" width="19" height="1.4" fill="#5a2806" opacity="0.28" filter="url(#bl1)"/>
<rect x="587.8" y="256.2" width="19" height="1.4" fill="#5a2806" opacity="0.16" filter="url(#bl1)"/>
<rect x="587.8" y="259.4" width="19" height="1.4" fill="#5a2806" opacity="0.30" filter="url(#bl1)"/>
<path d="M615.40,205.30 Q620.30,205.76 625.20,205.30 A4.60,4.60 0 0 1 625.20,214.50 Q620.30,214.04 615.40,214.50 A4.60,4.60 0 0 1 615.40,205.30 Z" fill="#6a300a" filter="url(#bl1)" />
<rect x="612" y="213.5" width="17" height="4" fill="#e8c488" opacity="0.7" filter="url(#bl2)"/>
<rect x="612" y="262.8" width="16.8" height="3.8" rx="1.6" fill="#e6c078" filter="url(#bl1)"/>
<rect x="613" y="266" width="15" height="3" fill="#f2dcb0" filter="url(#bl2)"/>
<rect x="633.4" y="118.5" width="18.2" height="189.5" fill="url(#pr2)" filter="url(#bl3)"/>
<rect x="633.0" y="123.4" width="18.8" height="2.0" fill="#7a3e12" filter="url(#bl1)"/>
<rect x="633.6" y="130.45" width="17.6" height="1.1" fill="#a06a28" opacity="0.3" filter="url(#bl1)"/>
<rect x="633.6" y="136.45" width="17.6" height="1.1" fill="#a06a28" opacity="0.25" filter="url(#bl1)"/>
<rect x="633.6" y="141.45" width="17.6" height="1.1" fill="#a06a28" opacity="0.2" filter="url(#bl1)"/>
<rect x="633.6" y="145.45" width="17.6" height="1.1" fill="#a06a28" opacity="0.3" filter="url(#bl1)"/>
<rect x="633.6" y="150.45" width="17.6" height="1.1" fill="#a06a28" opacity="0.2" filter="url(#bl1)"/>
<rect x="633.6" y="155.45" width="17.6" height="1.1" fill="#a06a28" opacity="0.45" filter="url(#bl1)"/>
<rect x="633.6" y="164.45" width="17.6" height="1.1" fill="#a06a28" opacity="0.25" filter="url(#bl1)"/>
<rect x="633.6" y="169.45" width="17.6" height="1.1" fill="#a06a28" opacity="0.3" filter="url(#bl1)"/>
<rect x="633.6" y="175.45" width="17.6" height="1.1" fill="#a06a28" opacity="0.25" filter="url(#bl1)"/>
<rect x="633.6" y="180.45" width="17.6" height="1.1" fill="#a06a28" opacity="0.2" filter="url(#bl1)"/>
<rect x="633.6" y="185.45" width="17.6" height="1.1" fill="#a06a28" opacity="0.25" filter="url(#bl1)"/>
<rect x="633.6" y="189.45" width="17.6" height="1.1" fill="#a06a28" opacity="0.2" filter="url(#bl1)"/>
<rect x="633.6" y="193.45" width="17.6" height="1.1" fill="#a06a28" opacity="0.3" filter="url(#bl1)"/>
<rect x="633.6" y="197.45" width="17.6" height="1.1" fill="#a06a28" opacity="0.35" filter="url(#bl1)"/>
<path d="M637.60,204.80 Q642.40,205.31 647.20,204.80 A4.80,5.10 0 0 1 647.20,215.00 Q642.40,214.49 637.60,215.00 A4.80,5.10 0 0 1 637.60,204.80 Z" fill="#66300a" filter="url(#bl1)" />
<path d="M635.80,260.20 Q642.40,260.46 649.00,260.20 A2.60,2.60 0 0 1 649.00,265.40 Q642.40,265.14 635.80,265.40 A2.60,2.60 0 0 1 635.80,260.20 Z" fill="#cc9638" filter="url(#bl1)" />
<rect x="634" y="266" width="17" height="4" fill="#e8cc90" opacity="0.8" filter="url(#bl2)"/>
<rect x="634" y="219.5" width="17" height="3.4" fill="#d4a860" opacity="0.7" filter="url(#bl1)"/>
<rect x="634" y="226" width="17" height="2.2" fill="#dcb878" opacity="0.6" filter="url(#bl1)"/>
</g>
<rect x="564.00" y="118.60" width="120.00" height="189.60" fill="none" stroke="#2e2e2e" stroke-width="1.6" />
<rect x="436.30" y="217.20" width="248.10" height="20.70" fill="none" stroke="#e0281a" stroke-width="2.0" />
<text x="478.60" y="112.80" font-size="10.4" fill="#111" textLength="47.20" lengthAdjust="spacingAndGlyphs" transform="rotate(-90 478.60 112.80)" stroke="#111" stroke-width="0.12">Input (5%)</text>
<text x="500.70" y="112.80" font-size="10.4" fill="#111" textLength="33.70" lengthAdjust="spacingAndGlyphs" transform="rotate(-90 500.70 112.80)" stroke="#111" stroke-width="0.12">ctrl-IgG</text>
<text x="523.30" y="112.80" font-size="10.4" fill="#111" textLength="33.00" lengthAdjust="spacingAndGlyphs" transform="rotate(-90 523.30 112.80)" stroke="#111" stroke-width="0.12">PRMT1</text>
<text x="546.00" y="112.80" font-size="10.4" fill="#111" textLength="46.00" lengthAdjust="spacingAndGlyphs" transform="rotate(-90 546.00 112.80)" stroke="#111" stroke-width="0.12">ctrl-beads</text>
<text x="600.10" y="112.80" font-size="10.4" fill="#111" textLength="47.20" lengthAdjust="spacingAndGlyphs" transform="rotate(-90 600.10 112.80)" stroke="#111" stroke-width="0.12">Input (5%)</text>
<text x="622.40" y="112.80" font-size="10.4" fill="#111" textLength="33.70" lengthAdjust="spacingAndGlyphs" transform="rotate(-90 622.40 112.80)" stroke="#111" stroke-width="0.12">ctrl-IgG</text>
<text x="645.40" y="112.80" font-size="10.4" fill="#111" textLength="33.00" lengthAdjust="spacingAndGlyphs" transform="rotate(-90 645.40 112.80)" stroke="#111" stroke-width="0.12">PRMT1</text>
<text x="669.10" y="112.80" font-size="10.4" fill="#111" textLength="46.00" lengthAdjust="spacingAndGlyphs" transform="rotate(-90 669.10 112.80)" stroke="#111" stroke-width="0.12">ctrl-beads</text>
<text x="416.80" y="110.80" font-size="8.6" fill="#111" textLength="14.00" lengthAdjust="spacingAndGlyphs" >kDa</text>
<text x="429.60" y="122.00" font-size="8.5" text-anchor="end" fill="#111" >250</text>
<line x1="432.20" y1="119.30" x2="434.60" y2="119.30" stroke="#111" stroke-width="0.9" />
<text x="429.60" y="140.10" font-size="8.5" text-anchor="end" fill="#111" >150</text>
<line x1="432.20" y1="137.40" x2="434.60" y2="137.40" stroke="#111" stroke-width="0.9" />
<text x="429.60" y="160.90" font-size="8.5" text-anchor="end" fill="#111" >100</text>
<line x1="432.20" y1="158.20" x2="434.60" y2="158.20" stroke="#111" stroke-width="0.9" />
<text x="429.60" y="176.70" font-size="8.5" text-anchor="end" fill="#111" >75</text>
<line x1="432.20" y1="174.00" x2="434.60" y2="174.00" stroke="#111" stroke-width="0.9" />
<text x="429.60" y="212.30" font-size="8.5" text-anchor="end" fill="#111" >50</text>
<line x1="432.20" y1="209.60" x2="434.60" y2="209.60" stroke="#111" stroke-width="0.9" />
<text x="429.60" y="238.30" font-size="8.5" text-anchor="end" fill="#111" >37</text>
<line x1="432.20" y1="235.60" x2="434.60" y2="235.60" stroke="#111" stroke-width="0.9" />
<text x="429.60" y="267.60" font-size="8.5" text-anchor="end" fill="#111" >25</text>
<line x1="432.20" y1="264.90" x2="434.60" y2="264.90" stroke="#111" stroke-width="0.9" />
<text x="429.60" y="281.60" font-size="8.5" text-anchor="end" fill="#111" >20</text>
<line x1="432.20" y1="278.90" x2="434.60" y2="278.90" stroke="#111" stroke-width="0.9" />
<text x="429.60" y="297.40" font-size="8.5" text-anchor="end" fill="#111" >15</text>
<line x1="432.20" y1="294.70" x2="434.60" y2="294.70" stroke="#111" stroke-width="0.9" />
<text x="429.60" y="309.90" font-size="8.5" text-anchor="end" fill="#111" >10</text>
<line x1="432.20" y1="307.20" x2="434.60" y2="307.20" stroke="#111" stroke-width="0.9" />
<text x="372.50" y="231.10" font-size="10.7" fill="#111" textLength="32.80" lengthAdjust="spacingAndGlyphs" stroke="#111" stroke-width="0.15">PRMT1</text>
<line x1="414.00" y1="227.40" x2="431.50" y2="227.40" stroke="#000" stroke-width="1.5" />
<path d="M436.4,227.4 L430.2,224.6 L430.2,230.2 Z" fill="#000"/>
<rect x="507.30" y="453.70" width="13.60" height="9.33" fill="#f2f4f3" />
<rect x="520.90" y="453.70" width="13.60" height="9.33" fill="#da291c" />
<rect x="534.50" y="453.70" width="13.60" height="9.33" fill="#da291c" />
<rect x="548.10" y="453.70" width="13.60" height="9.33" fill="#da291c" />
<rect x="561.70" y="453.70" width="13.60" height="9.33" fill="#da291c" />
<rect x="507.30" y="463.03" width="13.60" height="9.33" fill="#da291c" />
<rect x="520.90" y="463.03" width="13.60" height="9.33" fill="#da291c" />
<rect x="534.50" y="463.03" width="13.60" height="9.33" fill="#da291c" />
<rect x="548.10" y="463.03" width="13.60" height="9.33" fill="#da291c" />
<rect x="561.70" y="463.03" width="13.60" height="9.33" fill="#da291c" />
<rect x="507.30" y="472.37" width="13.60" height="9.33" fill="#da291c" />
<rect x="520.90" y="472.37" width="13.60" height="9.33" fill="#da291c" />
<rect x="534.50" y="472.37" width="13.60" height="9.33" fill="#da291c" />
<rect x="548.10" y="472.37" width="13.60" height="9.33" fill="#da291c" />
<rect x="561.70" y="472.37" width="13.60" height="9.33" fill="#da291c" />
<rect x="507.30" y="481.70" width="13.60" height="9.33" fill="#da291c" />
<rect x="520.90" y="481.70" width="13.60" height="9.33" fill="#da291c" />
<rect x="534.50" y="481.70" width="13.60" height="9.33" fill="#da291c" />
<rect x="548.10" y="481.70" width="13.60" height="9.33" fill="#da291c" />
<rect x="561.70" y="481.70" width="13.60" height="9.33" fill="#da291c" />
<rect x="507.30" y="491.04" width="13.60" height="9.33" fill="#da291c" />
<rect x="520.90" y="491.04" width="13.60" height="9.33" fill="#da291c" />
<rect x="534.50" y="491.04" width="13.60" height="9.33" fill="#da291c" />
<rect x="548.10" y="491.04" width="13.60" height="9.33" fill="#da291c" />
<rect x="561.70" y="491.04" width="13.60" height="9.33" fill="#da291c" />
<rect x="507.30" y="500.37" width="13.60" height="9.33" fill="#da291c" />
<rect x="520.90" y="500.37" width="13.60" height="9.33" fill="#da291c" />
<rect x="534.50" y="500.37" width="13.60" height="9.33" fill="#da291c" />
<rect x="548.10" y="500.37" width="13.60" height="9.33" fill="#da291c" />
<rect x="561.70" y="500.37" width="13.60" height="9.33" fill="#da291c" />
<rect x="507.30" y="509.71" width="13.60" height="9.33" fill="#da291c" />
<rect x="520.90" y="509.71" width="13.60" height="9.33" fill="#da291c" />
<rect x="534.50" y="509.71" width="13.60" height="9.33" fill="#da291c" />
<rect x="548.10" y="509.71" width="13.60" height="9.33" fill="#da291c" />
<rect x="561.70" y="509.71" width="13.60" height="9.33" fill="#da291c" />
<rect x="507.30" y="519.04" width="13.60" height="9.33" fill="#da291c" />
<rect x="520.90" y="519.04" width="13.60" height="9.33" fill="#da291c" />
<rect x="534.50" y="519.04" width="13.60" height="9.33" fill="#da291c" />
<rect x="548.10" y="519.04" width="13.60" height="9.33" fill="#da291c" />
<rect x="561.70" y="519.04" width="13.60" height="9.33" fill="#da291c" />
<rect x="507.30" y="528.38" width="13.60" height="9.33" fill="#da291c" />
<rect x="520.90" y="528.38" width="13.60" height="9.33" fill="#da291c" />
<rect x="534.50" y="528.38" width="13.60" height="9.33" fill="#da291c" />
<rect x="548.10" y="528.38" width="13.60" height="9.33" fill="#da291c" />
<rect x="561.70" y="528.38" width="13.60" height="9.33" fill="#da291c" />
<rect x="507.30" y="537.71" width="13.60" height="9.33" fill="#da291c" />
<rect x="520.90" y="537.71" width="13.60" height="9.33" fill="#da291c" />
<rect x="534.50" y="537.71" width="13.60" height="9.33" fill="#da291c" />
<rect x="548.10" y="537.71" width="13.60" height="9.33" fill="#da291c" />
<rect x="561.70" y="537.71" width="13.60" height="9.33" fill="#da291c" />
<rect x="507.30" y="547.04" width="13.60" height="9.33" fill="#da291c" />
<rect x="520.90" y="547.04" width="13.60" height="9.33" fill="#da291c" />
<rect x="534.50" y="547.04" width="13.60" height="9.33" fill="#da291c" />
<rect x="548.10" y="547.04" width="13.60" height="9.33" fill="#da291c" />
<rect x="561.70" y="547.04" width="13.60" height="9.33" fill="#da291c" />
<rect x="507.30" y="556.38" width="13.60" height="9.33" fill="#da291c" />
<rect x="520.90" y="556.38" width="13.60" height="9.33" fill="#da291c" />
<rect x="534.50" y="556.38" width="13.60" height="9.33" fill="#da291c" />
<rect x="548.10" y="556.38" width="13.60" height="9.33" fill="#da291c" />
<rect x="561.70" y="556.38" width="13.60" height="9.33" fill="#da291c" />
<rect x="507.30" y="565.71" width="13.60" height="9.33" fill="#da291c" />
<rect x="520.90" y="565.71" width="13.60" height="9.33" fill="#da291c" />
<rect x="534.50" y="565.71" width="13.60" height="9.33" fill="#da291c" />
<rect x="548.10" y="565.71" width="13.60" height="9.33" fill="#da291c" />
<rect x="561.70" y="565.71" width="13.60" height="9.33" fill="#da291c" />
<rect x="507.30" y="575.05" width="13.60" height="9.33" fill="#da291c" />
<rect x="520.90" y="575.05" width="13.60" height="9.33" fill="#da291c" />
<rect x="534.50" y="575.05" width="13.60" height="9.33" fill="#da291c" />
<rect x="548.10" y="575.05" width="13.60" height="9.33" fill="#da291c" />
<rect x="561.70" y="575.05" width="13.60" height="9.33" fill="#da291c" />
<rect x="507.30" y="584.38" width="13.60" height="9.33" fill="#f2f4f3" />
<rect x="520.90" y="584.38" width="13.60" height="9.33" fill="#f2f4f3" />
<rect x="534.50" y="584.38" width="13.60" height="9.33" fill="#f5e21a" />
<rect x="548.10" y="584.38" width="13.60" height="9.33" fill="#f2f4f3" />
<rect x="561.70" y="584.38" width="13.60" height="9.33" fill="#f5e21a" />
<rect x="507.30" y="593.72" width="13.60" height="9.33" fill="#f2f4f3" />
<rect x="520.90" y="593.72" width="13.60" height="9.33" fill="#f2f4f3" />
<rect x="534.50" y="593.72" width="13.60" height="9.33" fill="#f5e21a" />
<rect x="548.10" y="593.72" width="13.60" height="9.33" fill="#f2f4f3" />
<rect x="561.70" y="593.72" width="13.60" height="9.33" fill="#f2f4f3" />
<rect x="507.30" y="603.05" width="13.60" height="9.33" fill="#f2f4f3" />
<rect x="520.90" y="603.05" width="13.60" height="9.33" fill="#f2f4f3" />
<rect x="534.50" y="603.05" width="13.60" height="9.33" fill="#f5e21a" />
<rect x="548.10" y="603.05" width="13.60" height="9.33" fill="#f2f4f3" />
<rect x="561.70" y="603.05" width="13.60" height="9.33" fill="#f2f4f3" />
<rect x="507.30" y="612.39" width="13.60" height="9.33" fill="#f2f4f3" />
<rect x="520.90" y="612.39" width="13.60" height="9.33" fill="#f5e21a" />
<rect x="534.50" y="612.39" width="13.60" height="9.33" fill="#f5e21a" />
<rect x="548.10" y="612.39" width="13.60" height="9.33" fill="#f5e21a" />
<rect x="561.70" y="612.39" width="13.60" height="9.33" fill="#f2f4f3" />
<rect x="507.30" y="621.72" width="13.60" height="9.33" fill="#f2f4f3" />
<rect x="520.90" y="621.72" width="13.60" height="9.33" fill="#f5e21a" />
<rect x="534.50" y="621.72" width="13.60" height="9.33" fill="#f5e21a" />
<rect x="548.10" y="621.72" width="13.60" height="9.33" fill="#f5e21a" />
<rect x="561.70" y="621.72" width="13.60" height="9.33" fill="#f5e21a" />
<rect x="507.30" y="631.06" width="13.60" height="9.33" fill="#f2f4f3" />
<rect x="520.90" y="631.06" width="13.60" height="9.33" fill="#f5e21a" />
<rect x="534.50" y="631.06" width="13.60" height="9.33" fill="#f5e21a" />
<rect x="548.10" y="631.06" width="13.60" height="9.33" fill="#f5e21a" />
<rect x="561.70" y="631.06" width="13.60" height="9.33" fill="#f5e21a" />
<rect x="507.30" y="640.39" width="13.60" height="9.33" fill="#f2f4f3" />
<rect x="520.90" y="640.39" width="13.60" height="9.33" fill="#f5e21a" />
<rect x="534.50" y="640.39" width="13.60" height="9.33" fill="#f5e21a" />
<rect x="548.10" y="640.39" width="13.60" height="9.33" fill="#f5e21a" />
<rect x="561.70" y="640.39" width="13.60" height="9.33" fill="#f5e21a" />
<rect x="507.30" y="649.72" width="13.60" height="9.33" fill="#f5e21a" />
<rect x="520.90" y="649.72" width="13.60" height="9.33" fill="#f5e21a" />
<rect x="534.50" y="649.72" width="13.60" height="9.33" fill="#f5e21a" />
<rect x="548.10" y="649.72" width="13.60" height="9.33" fill="#f5e21a" />
<rect x="561.70" y="649.72" width="13.60" height="9.33" fill="#f5e21a" />
<rect x="507.30" y="659.06" width="13.60" height="9.33" fill="#f5e21a" />
<rect x="520.90" y="659.06" width="13.60" height="9.33" fill="#f5e21a" />
<rect x="534.50" y="659.06" width="13.60" height="9.33" fill="#f5e21a" />
<rect x="548.10" y="659.06" width="13.60" height="9.33" fill="#f5e21a" />
<rect x="561.70" y="659.06" width="13.60" height="9.33" fill="#f5e21a" />
<rect x="507.30" y="668.39" width="13.60" height="9.33" fill="#f5e21a" />
<rect x="520.90" y="668.39" width="13.60" height="9.33" fill="#f5e21a" />
<rect x="534.50" y="668.39" width="13.60" height="9.33" fill="#f5e21a" />
<rect x="548.10" y="668.39" width="13.60" height="9.33" fill="#f5e21a" />
<rect x="561.70" y="668.39" width="13.60" height="9.33" fill="#f5e21a" />
<rect x="507.30" y="677.73" width="13.60" height="9.33" fill="#f5e21a" />
<rect x="520.90" y="677.73" width="13.60" height="9.33" fill="#f5e21a" />
<rect x="534.50" y="677.73" width="13.60" height="9.33" fill="#f5e21a" />
<rect x="548.10" y="677.73" width="13.60" height="9.33" fill="#f5e21a" />
<rect x="561.70" y="677.73" width="13.60" height="9.33" fill="#f5e21a" />
<rect x="507.30" y="687.06" width="13.60" height="9.33" fill="#f5e21a" />
<rect x="520.90" y="687.06" width="13.60" height="9.33" fill="#f5e21a" />
<rect x="534.50" y="687.06" width="13.60" height="9.33" fill="#f5e21a" />
<rect x="548.10" y="687.06" width="13.60" height="9.33" fill="#f5e21a" />
<rect x="561.70" y="687.06" width="13.60" height="9.33" fill="#f5e21a" />
<rect x="507.30" y="696.40" width="13.60" height="9.33" fill="#f5e21a" />
<rect x="520.90" y="696.40" width="13.60" height="9.33" fill="#f5e21a" />
<rect x="534.50" y="696.40" width="13.60" height="9.33" fill="#f5e21a" />
<rect x="548.10" y="696.40" width="13.60" height="9.33" fill="#f5e21a" />
<rect x="561.70" y="696.40" width="13.60" height="9.33" fill="#f5e21a" />
<rect x="507.30" y="705.73" width="13.60" height="9.33" fill="#f2f4f3" />
<rect x="520.90" y="705.73" width="13.60" height="9.33" fill="#da291c" />
<rect x="534.50" y="705.73" width="13.60" height="9.33" fill="#da291c" />
<rect x="548.10" y="705.73" width="13.60" height="9.33" fill="#f2f4f3" />
<rect x="561.70" y="705.73" width="13.60" height="9.33" fill="#f2f4f3" />
<rect x="507.30" y="715.07" width="13.60" height="9.33" fill="#f2f4f3" />
<rect x="520.90" y="715.07" width="13.60" height="9.33" fill="#da291c" />
<rect x="534.50" y="715.07" width="13.60" height="9.33" fill="#da291c" />
<rect x="548.10" y="715.07" width="13.60" height="9.33" fill="#da291c" />
<rect x="561.70" y="715.07" width="13.60" height="9.33" fill="#f2f4f3" />
<path d="M507.30,453.70H575.30M507.30,463.03H575.30M507.30,472.37H575.30M507.30,481.70H575.30M507.30,491.04H575.30M507.30,500.37H575.30M507.30,509.71H575.30M507.30,519.04H575.30M507.30,528.38H575.30M507.30,537.71H575.30M507.30,547.04H575.30M507.30,556.38H575.30M507.30,565.71H575.30M507.30,575.05H575.30M507.30,584.38H575.30M507.30,593.72H575.30M507.30,603.05H575.30M507.30,612.39H575.30M507.30,621.72H575.30M507.30,631.06H575.30M507.30,640.39H575.30M507.30,649.72H575.30M507.30,659.06H575.30M507.30,668.39H575.30M507.30,677.73H575.30M507.30,687.06H575.30M507.30,696.40H575.30M507.30,705.73H575.30M507.30,715.07H575.30M507.30,724.40H575.30M507.30,453.70V724.40M520.90,453.70V724.40M534.50,453.70V724.40M548.10,453.70V724.40M561.70,453.70V724.40M575.30,453.70V724.40" stroke="#141414" stroke-width="1" fill="none" shape-rendering="crispEdges"/>
<text x="580.00" y="461.72" font-size="9.0" fill="#1a1a1a" textLength="31.25" lengthAdjust="spacingAndGlyphs" stroke="#1a1a1a" stroke-width="0.12">THRAP3</text>
<text x="580.00" y="471.05" font-size="9.0" fill="#1a1a1a" textLength="21.56" lengthAdjust="spacingAndGlyphs" stroke="#1a1a1a" stroke-width="0.12">SFPQ</text>
<text x="580.00" y="480.39" font-size="9.0" fill="#1a1a1a" textLength="37.26" lengthAdjust="spacingAndGlyphs" stroke="#1a1a1a" stroke-width="0.12">HNRNPA1</text>
<text x="580.00" y="489.72" font-size="9.0" fill="#1a1a1a" textLength="21.13" lengthAdjust="spacingAndGlyphs" stroke="#1a1a1a" stroke-width="0.12">DHX9</text>
<text x="580.00" y="499.06" font-size="9.0" fill="#1a1a1a" textLength="33.88" lengthAdjust="spacingAndGlyphs" stroke="#1a1a1a" stroke-width="0.12">HNRNPU</text>
<text x="580.00" y="508.39" font-size="9.0" fill="#1a1a1a" textLength="42.69" lengthAdjust="spacingAndGlyphs" stroke="#1a1a1a" stroke-width="0.12">HNRNPUL1</text>
<text x="580.00" y="517.72" font-size="9.0" fill="#1a1a1a" textLength="22.88" lengthAdjust="spacingAndGlyphs" stroke="#1a1a1a" stroke-width="0.12">RBMX</text>
<text x="580.00" y="527.06" font-size="9.0" fill="#1a1a1a" textLength="37.26" lengthAdjust="spacingAndGlyphs" stroke="#1a1a1a" stroke-width="0.12">HNRNPA0</text>
<text x="580.00" y="536.39" font-size="9.0" fill="#1a1a1a" textLength="35.21" lengthAdjust="spacingAndGlyphs" stroke="#1a1a1a" stroke-width="0.12">SYNCRIP</text>
<text x="580.00" y="545.73" font-size="9.0" fill="#1a1a1a" textLength="15.84" lengthAdjust="spacingAndGlyphs" stroke="#1a1a1a" stroke-width="0.12">FUS</text>
<text x="580.00" y="555.06" font-size="9.0" fill="#1a1a1a" textLength="33.88" lengthAdjust="spacingAndGlyphs" stroke="#1a1a1a" stroke-width="0.12">HNRNPR</text>
<text x="580.00" y="564.40" font-size="9.0" fill="#1a1a1a" textLength="38.29" lengthAdjust="spacingAndGlyphs" stroke="#1a1a1a" stroke-width="0.12">HNRNPH1</text>
<text x="580.00" y="573.73" font-size="9.0" fill="#1a1a1a" textLength="38.29" lengthAdjust="spacingAndGlyphs" stroke="#1a1a1a" stroke-width="0.12">HNRNPH3</text>
<text x="580.00" y="583.07" font-size="9.0" fill="#1a1a1a" textLength="37.26" lengthAdjust="spacingAndGlyphs" stroke="#1a1a1a" stroke-width="0.12">HNRNPA3</text>
<text x="580.00" y="592.40" font-size="9.0" fill="#1a1a1a" textLength="30.37" lengthAdjust="spacingAndGlyphs" stroke="#1a1a1a" stroke-width="0.12">FAM98B</text>
<text x="580.00" y="601.73" font-size="9.0" fill="#1a1a1a" textLength="22.00" lengthAdjust="spacingAndGlyphs" stroke="#1a1a1a" stroke-width="0.12">RBM3</text>
<text x="580.00" y="611.07" font-size="9.0" fill="#1a1a1a" textLength="14.52" lengthAdjust="spacingAndGlyphs" stroke="#1a1a1a" stroke-width="0.12">FBL</text>
<text x="580.00" y="620.40" font-size="9.0" fill="#1a1a1a" textLength="27.72" lengthAdjust="spacingAndGlyphs" stroke="#1a1a1a" stroke-width="0.12">WDR33</text>
<text x="580.00" y="629.74" font-size="9.0" fill="#1a1a1a" textLength="35.67" lengthAdjust="spacingAndGlyphs" stroke="#1a1a1a" stroke-width="0.12">KIAA1429</text>
<text x="580.00" y="639.07" font-size="9.0" fill="#1a1a1a" textLength="46.07" lengthAdjust="spacingAndGlyphs" stroke="#1a1a1a" stroke-width="0.12">HNRNPA1L2</text>
<text x="580.00" y="648.41" font-size="9.0" fill="#1a1a1a" textLength="28.61" lengthAdjust="spacingAndGlyphs" stroke="#1a1a1a" stroke-width="0.12">ZNF326</text>
<text x="580.00" y="657.74" font-size="9.0" fill="#1a1a1a" textLength="20.69" lengthAdjust="spacingAndGlyphs" stroke="#1a1a1a" stroke-width="0.12">LSM4</text>
<text x="580.00" y="667.08" font-size="9.0" fill="#1a1a1a" textLength="31.69" lengthAdjust="spacingAndGlyphs" stroke="#1a1a1a" stroke-width="0.12">RBMXL1</text>
<text x="580.00" y="676.41" font-size="9.0" fill="#1a1a1a" textLength="27.29" lengthAdjust="spacingAndGlyphs" stroke="#1a1a1a" stroke-width="0.12">SNRPB</text>
<text x="580.00" y="685.74" font-size="9.0" fill="#1a1a1a" textLength="33.44" lengthAdjust="spacingAndGlyphs" stroke="#1a1a1a" stroke-width="0.12">HNRNPK</text>
<text x="580.00" y="695.08" font-size="9.0" fill="#1a1a1a" textLength="33.88" lengthAdjust="spacingAndGlyphs" stroke="#1a1a1a" stroke-width="0.12">HNRNPD</text>
<text x="580.00" y="704.41" font-size="9.0" fill="#1a1a1a" textLength="21.42" lengthAdjust="spacingAndGlyphs" stroke="#1a1a1a" stroke-width="0.12">SRRT</text>
<text x="580.00" y="713.75" font-size="9.0" fill="#1a1a1a" textLength="20.69" lengthAdjust="spacingAndGlyphs" stroke="#1a1a1a" stroke-width="0.12">RPS2</text>
<text x="580.00" y="723.08" font-size="9.0" fill="#1a1a1a" textLength="37.41" lengthAdjust="spacingAndGlyphs" stroke="#1a1a1a" stroke-width="0.12">KHDRBS1</text>
<text x="510.60" y="730.00" font-size="8.9" fill="#1a1a1a" textLength="168.50" lengthAdjust="spacingAndGlyphs" transform="rotate(90 510.60 730.00)" stroke="#1a1a1a" stroke-width="0.1">RNA splicing via transesterification reactions</text>
<text x="523.90" y="730.00" font-size="8.9" fill="#1a1a1a" textLength="95.60" lengthAdjust="spacingAndGlyphs" transform="rotate(90 523.90 730.00)" stroke="#1a1a1a" stroke-width="0.1">mRNA metabolic process</text>
<text x="537.50" y="730.00" font-size="8.9" fill="#1a1a1a" textLength="59.20" lengthAdjust="spacingAndGlyphs" transform="rotate(90 537.50 730.00)" stroke="#1a1a1a" stroke-width="0.1">RNA processing</text>
<text x="551.00" y="730.00" font-size="8.9" fill="#1a1a1a" textLength="67.00" lengthAdjust="spacingAndGlyphs" transform="rotate(90 551.00 730.00)" stroke="#1a1a1a" stroke-width="0.1">mRNA processing</text>
<text x="564.80" y="730.00" font-size="8.9" fill="#1a1a1a" textLength="48.20" lengthAdjust="spacingAndGlyphs" transform="rotate(90 564.80 730.00)" stroke="#1a1a1a" stroke-width="0.1">RNA splicing</text>
<path d="M514.10,373.60L548.10,373.60M514.10,373.60L514.10,453.70M548.10,373.60L548.10,392.90M534.50,392.90L561.60,392.90M534.50,392.90L534.50,422.30M561.60,392.90L561.60,408.70M527.70,422.30L541.30,422.30M527.70,422.30L527.70,453.70M541.30,422.30L541.30,453.70M554.90,408.70L568.50,408.70M554.90,408.70L554.90,453.70M568.50,408.70L568.50,453.70M468.30,459.00L468.30,477.10M468.30,459.00L507.30,459.00M468.30,477.10L507.30,477.10M426.60,468.20L468.30,468.20M426.60,468.20L426.60,665.00M426.60,665.00L445.30,665.00M445.30,614.60L445.30,715.40M445.30,614.60L468.40,614.60M445.30,715.40L468.40,715.40M468.40,596.40L468.40,633.20M468.40,596.40L487.50,596.40M468.40,633.20L479.30,633.20M487.50,589.40L487.50,603.40M487.50,589.40L507.30,589.40M487.50,603.40L507.30,603.40M479.30,617.50L479.30,648.30M479.30,617.50L507.30,617.50M479.30,648.30L487.50,648.30M487.50,633.60L487.50,663.60M487.50,633.60L507.30,633.60M487.50,663.60L507.30,663.60M468.40,711.00L468.40,720.00M468.40,711.00L507.30,711.00M468.40,720.00L507.30,720.00" stroke="#3c3c3c" stroke-width="1" fill="none" stroke-linecap="square" shape-rendering="crispEdges"/>
</svg></body></html>
